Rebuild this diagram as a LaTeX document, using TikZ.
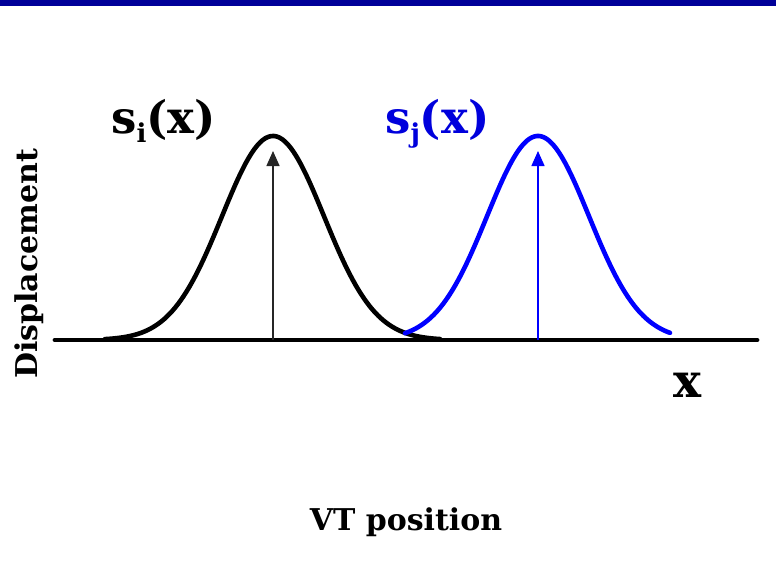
\documentclass[tikz,border=0pt]{standalone}
\usepackage{fontspec}
\setmainfont{DejaVu Serif}
\usetikzlibrary{arrows.meta}
\definecolor{barblue}{RGB}{0,0,153}
\definecolor{curveblue}{RGB}{0,0,255}
\definecolor{textblue}{RGB}{0,0,220}
\tikzset{
  curve/.style={line width=4.6pt, line cap=round, line join=round},
  axisline/.style={line width=4.8pt, line cap=round},
  peakarrow/.style={line width=1.5pt, -{Triangle[length=15pt,width=13pt]}},
  lbl/.style={inner sep=0pt, font=\bfseries}
}
\newcommand{\subtxt}[1]{\raisebox{-0.42ex}{\fontsize{26}{26}\selectfont #1}}
\begin{document}
\begin{tikzpicture}[x=1pt,y=-1pt]
\useasboundingbox (0,0) rectangle (776,579);
\fill[barblue] (0,0) rectangle (776,5.5);
% axis
\coordinate (axl) at (55,340);
\coordinate (axr) at (757,340);
\draw[axisline] (axl) -- (axr);
% black curve
\draw[curve, black] plot[domain=105:440, samples=120] (\x, {340-204*exp(-((\x-273)/51)^2/2)});
% blue curve
\draw[curve, curveblue] plot[domain=405:670, samples=120] (\x, {340-204*exp(-((\x-538)/51)^2/2)});
% arrows
\coordinate (ib) at (273,340);
\coordinate (it) at (273,151);
\coordinate (jb) at (538,340);
\coordinate (jt) at (538,151);
\draw[peakarrow, black!85] (ib) -- (it);
\draw[peakarrow, curveblue] (jb) -- (jt);
% labels
\node[lbl, anchor=base west, font=\bfseries\fontsize{45}{45}\selectfont] (si) at (111,133) {s\subtxt{i}(x)};
\node[lbl, anchor=base west, textblue, font=\bfseries\fontsize{45}{45}\selectfont] (sj) at (385,133) {s\subtxt{j}(x)};
\node[lbl, anchor=base, font=\bfseries\fontsize{47}{47}\selectfont] (xl) at (688,397) {x};
\node[lbl, anchor=base, font=\bfseries\fontsize{30}{30}\selectfont] (vt) at (406,530) {VT position};
\node[lbl, anchor=base, rotate=90, font=\bfseries\fontsize{30}{30}\selectfont] (disp) at (37,264) {Displacement};
\end{tikzpicture}
\end{document}
